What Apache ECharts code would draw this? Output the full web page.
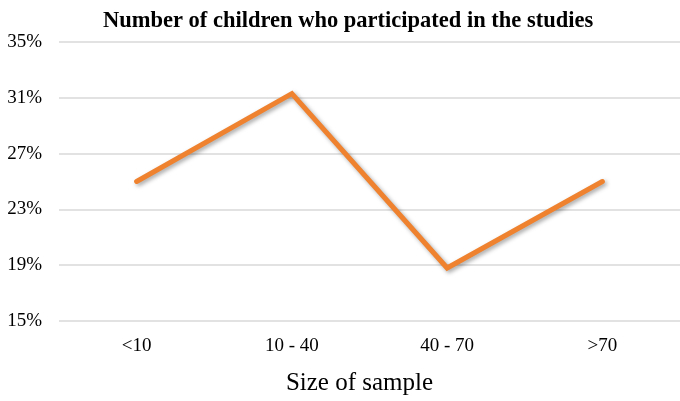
<!DOCTYPE html>
<html>
<head>
<meta charset="utf-8">
<script src="https://cdn.jsdelivr.net/npm/echarts@6/dist/echarts.min.js"></script>
<style>
  html, body { margin: 0; padding: 0; background: #fff; }
  #mychart { width: 680px; height: 401px; }
</style>
</head>
<body>
<div id="mychart"></div>
<script>
// sample size groups and share of studies
const categories = ['<10', '10 - 40', '40 - 70', '>70'];
const shares = [25.0, 31.3, 18.8, 25.0];
const yMin = 15, yMax = 35, yStep = 4;

let myChart = echarts.init(document.getElementById('mychart'));
const serif = '"Liberation Serif", "DejaVu Serif", serif';

myChart.setOption({
  animation: false,
  title: {
    text: 'Number of children who participated in the studies',
    left: 98,
    top: 5,
    textStyle: {
      fontFamily: serif,
      fontWeight: 'bold',
      fontSize: 22.5,
      color: '#000'
    }
  },
  grid: {
    left: 59,
    top: 42,
    width: 628,
    bottom: 77
  },
  xAxis: {
    type: 'category',
    data: categories,
    boundaryGap: true,
    name: 'Size of sample',
    nameLocation: 'middle',
    nameGap: 50,
    nameTextStyle: {
      fontFamily: serif,
      fontSize: 25,
      color: '#000',
      padding: [0, 20, 0, 0]
    },
    axisLine: { show: false },
    axisTick: { show: false },
    axisLabel: {
      margin: 16,
      fontFamily: serif,
      fontSize: 19,
      color: '#000'
    }
  },
  yAxis: {
    type: 'value',
    min: yMin,
    max: yMax,
    interval: yStep,
    axisLine: { show: false },
    axisTick: { show: false },
    axisLabel: {
      margin: 17,
      fontFamily: serif,
      fontSize: 19,
      color: '#000',
      formatter: '{value}%'
    },
    splitLine: {
      lineStyle: { color: '#e2e2e2', width: 2 }
    }
  },
  series: [
    {
      type: 'line',
      data: shares,
      symbol: 'none',
      lineStyle: {
        color: '#EE822F',
        width: 5,
        cap: 'round',
        join: 'miter',
        shadowColor: 'rgba(0,0,0,0.35)',
        shadowBlur: 4,
        shadowOffsetX: 2,
        shadowOffsetY: 2
      }
    }
  ]
});
</script>
</body>
</html>
